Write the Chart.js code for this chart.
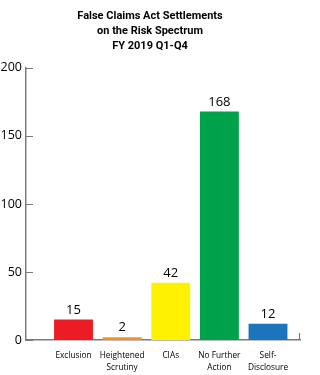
<!DOCTYPE html>
<html>
<head>
<meta charset="utf-8">
<script src="https://cdn.jsdelivr.net/npm/chart.js@4"></script>
<style>
    html, body { margin: 0; padding: 0; background: #ffffff; }
    #wrap { width: 320px; height: 375px; }
</style>
</head>
<body>
<div id="wrap"><canvas id="settlementsChart"></canvas></div>
<script>
const categories = [['Exclusion'], ['Heightened', 'Scrutiny'], ['CIAs'], ['No Further', 'Action'], ['Self-', 'Disclosure']];
const settlements = [15, 2, 42, 168, 12];
const barColors = ['#ED1C24', '#F39324', '#FFF200', '#00A14B', '#1C75BC'];
const yTicks = [0, 50, 100, 150, 200];
const titleLines = ['False Claims Act Settlements', 'on the Risk Spectrum', 'FY 2019 Q1-Q4'];

const axisColor = '#7a7a7a';

// inward tick marks + value labels above bars
const decorations = {
    id: 'decorations',
    afterDatasetsDraw(chart) {
        const ctx = chart.ctx;
        const y = chart.scales.y;
        const area = chart.chartArea;
        ctx.save();
        ctx.strokeStyle = axisColor;
        ctx.lineWidth = 1.2;
        ctx.beginPath();
        yTicks.forEach(t => {
            const py = Math.round(y.getPixelForValue(t)) + 0.5;
            ctx.moveTo(area.left, py);
            ctx.lineTo(area.left + 7, py);
        });
        ctx.moveTo(area.right - 0.5, area.bottom);
        ctx.lineTo(area.right - 0.5, area.bottom - 7);
        ctx.stroke();

        ctx.fillStyle = '#000000';
        ctx.font = '13px "Open Sans"';
        ctx.textAlign = 'center';
        ctx.textBaseline = 'bottom';
        chart.getDatasetMeta(0).data.forEach((bar, i) => {
            ctx.fillText(settlements[i], bar.x, bar.y - 3);
        });
        ctx.restore();
    }
};

new Chart(document.getElementById('settlementsChart'), {
    type: 'bar',
    data: {
        datasets: [{
            data: settlements.map((v, i) => ({ x: i, y: v })),
            backgroundColor: barColors,
            borderWidth: 0,
            categoryPercentage: 1,
            barPercentage: 0.8
        }]
    },
    options: {
        responsive: true,
        maintainAspectRatio: false,
        animation: false,
        layout: { padding: { right: 20 } },
        plugins: {
            legend: { display: false },
            tooltip: { enabled: false },
            title: {
                display: true,
                text: titleLines,
                color: '#000000',
                font: { family: 'Roboto', size: 11, weight: 'bold', lineHeight: 1.36 },
                padding: { top: 9, bottom: 14 }
            }
        },
        scales: {
            x: {
                type: 'linear',
                offset: false,
                min: -0.977,
                max: 4.658,
                grid: { display: false, drawTicks: false },
                border: { display: true, color: axisColor, width: 1.5 },
                afterFit: scale => { scale.height = 35; },
                ticks: {
                    stepSize: 1,
                    includeBounds: false,
                    autoSkip: false,
                    maxRotation: 0,
                    padding: 10,
                    color: '#000000',
                    font: { family: 'Open Sans', size: 8.3, lineHeight: 1.4 },
                    callback: value => categories[Math.round(value)] || ''
                }
            },
            y: {
                min: 0,
                max: 200,
                grid: { display: false, drawTicks: false },
                border: { display: true, color: axisColor, width: 1.5 },
                afterFit: scale => { scale.width = 26; },
                ticks: {
                    stepSize: 50,
                    padding: 4,
                    color: '#000000',
                    font: { family: 'Open Sans', size: 12.5 }
                }
            }
        }
    },
    plugins: [decorations]
});
</script>
</body>
</html>
